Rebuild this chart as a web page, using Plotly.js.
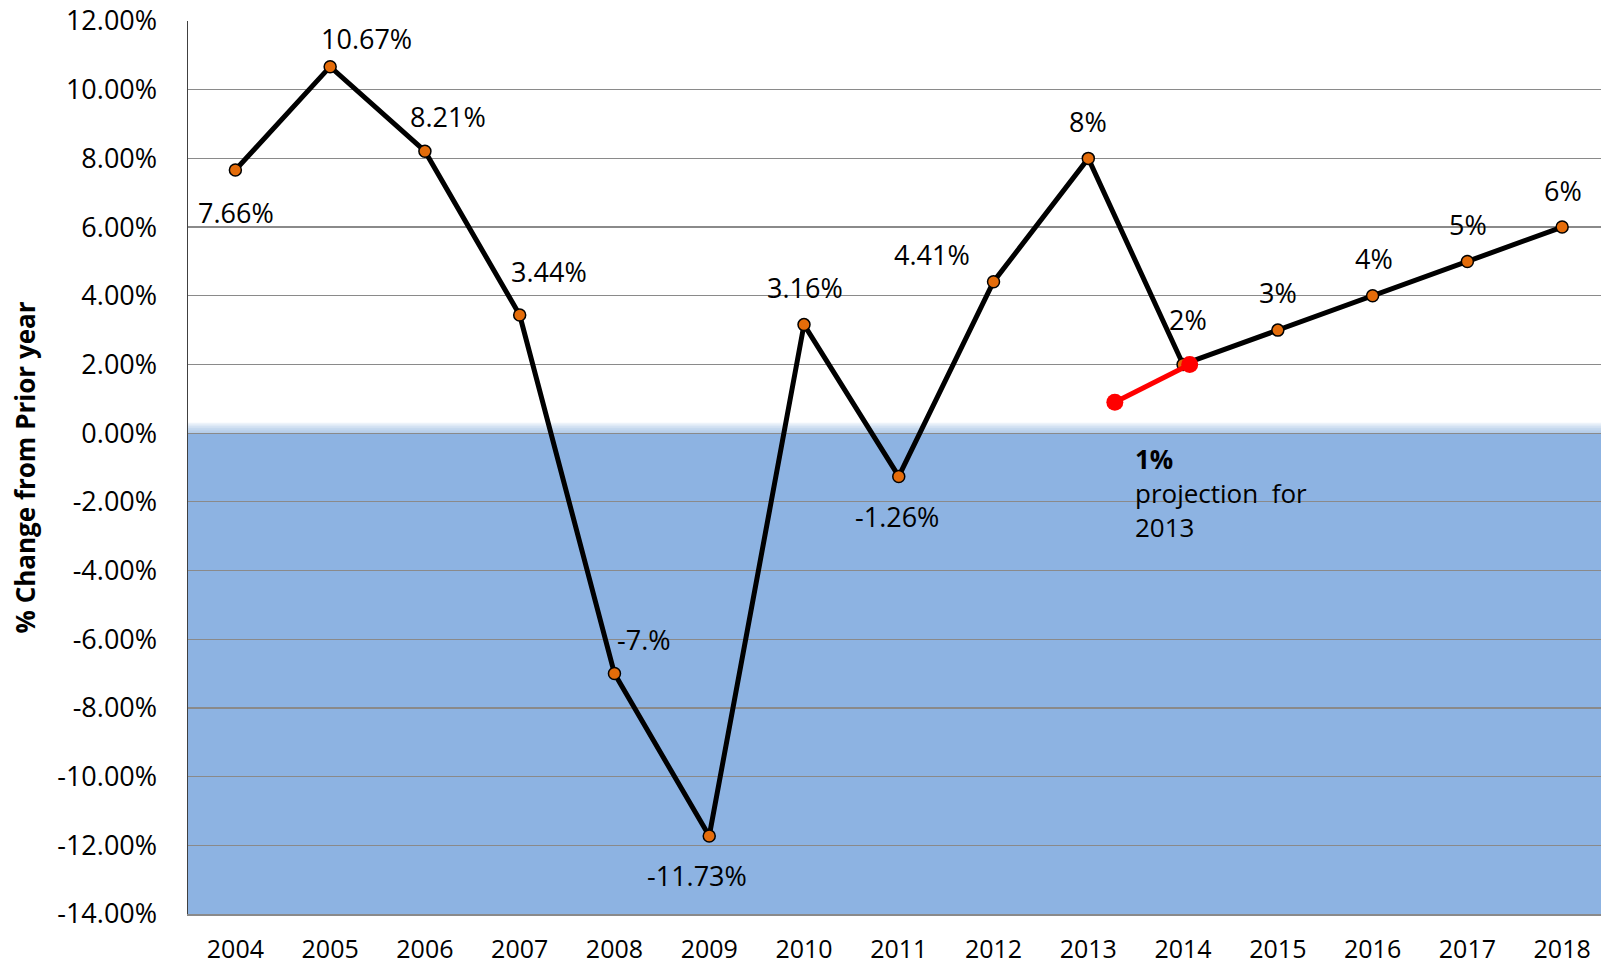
<!DOCTYPE html>
<html>
<head>
<meta charset="utf-8">
<script src="https://cdn.plot.ly/plotly-3.0.1.min.js"></script>
<style>
html,body{margin:0;padding:0;background:#fff;overflow:hidden;}
#chart{width:1601px;height:966px;}
</style>
</head>
<body>
<div id="chart"></div>
<script>
// ---- data ----
const years = [2004, 2005, 2006, 2007, 2008, 2009, 2010, 2011, 2012, 2013, 2014, 2015, 2016, 2017, 2018];
const pctChange = [7.66, 10.67, 8.21, 3.44, -7, -11.73, 3.16, -1.26, 4.41, 8, 2, 3, 4, 5, 6];
const pointLabels = ["7.66%", "10.67%", "8.21%", "3.44%", "-7.%", "-11.73%", "3.16%", "-1.26%", "4.41%", "8%", "2%", "3%", "4%", "5%", "6%"];
const projYears = [2013.28, 2014.07];
const projValues = [0.9, 2];
const projNote = ["<b>1%</b>", "projection  for", "2013"];
const yTickVals = [-14, -12, -10, -8, -6, -4, -2, 0, 2, 4, 6, 8, 10, 12];
const yTickText = ["-14.00%", "-12.00%", "-10.00%", "-8.00%", "-6.00%", "-4.00%", "-2.00%", "0.00%", "2.00%", "4.00%", "6.00%", "8.00%", "10.00%", "12.00%"];
const xTickText = years.map(String);

// ---- label placement (pixel offsets from each point) ----
const labelShift = [
  [1, -42], [36, 28], [23, 35], [29, 44], [30, 34], [-12, -39], [1, 37], [-2, -40],
  [-62, 27], [0, 37], [5, 45], [0, 38], [1, 37], [1, 37], [1, 37]
];

const FONT = "'Open Sans', 'Noto Sans', sans-serif";

const traces = [
  {
    x: years, y: pctChange, type: 'scatter', mode: 'lines+markers',
    line: {color: '#000000', width: 5},
    marker: {color: '#E46C0A', size: 12, line: {color: '#000000', width: 1.5}},
    hoverinfo: 'x+y', showlegend: false
  },
  {
    x: projYears, y: projValues, type: 'scatter', mode: 'lines+markers',
    line: {color: '#FF0000', width: 5},
    marker: {color: '#FF0000', size: 17},
    showlegend: false
  }
];

const annotations = years.map((yr, i) => ({
  x: yr, y: pctChange[i], xref: 'x', yref: 'y',
  text: pointLabels[i], showarrow: false,
  xshift: labelShift[i][0], yshift: labelShift[i][1],
  font: {family: FONT, size: 27, color: '#000'}
}));
annotations.push({
  x: projYears[0], y: projValues[0], xref: 'x', yref: 'y',
  text: projNote.join('<br>'), showarrow: false, align: 'left',
  xanchor: 'left', yanchor: 'middle', xshift: 18, yshift: -91,
  font: {family: FONT, size: 26, color: '#000'}
});

// blue shading below zero with soft fade on top edge
const shapes = [{
  type: 'rect', xref: 'paper', yref: 'y', x0: 0, x1: 1, y0: -14, y1: 0,
  fillcolor: '#8DB3E2', line: {width: 0}, layer: 'below'
}];
for (let k = 1; k <= 6; k++) {
  shapes.push({
    type: 'rect', xref: 'paper', yref: 'y', x0: 0, x1: 1, y0: 0, y1: 0.05 * k,
    fillcolor: '#8DB3E2', opacity: 0.16, line: {width: 0}, layer: 'below'
  });
}

const layout = {
  width: 1601, height: 966,
  margin: {l: 188, r: 0, t: 20.5, b: 52.3, pad: 0},
  paper_bgcolor: '#ffffff', plot_bgcolor: '#ffffff',
  font: {family: FONT, size: 25, color: '#000'},
  showlegend: false,
  xaxis: {
    range: [2003.5, 2018.41], tickvals: years, ticktext: xTickText,
    showgrid: false, zeroline: false, showline: true, linecolor: '#8a8a8a', linewidth: 1.5,
    ticks: '', tickfont: {family: FONT, size: 25, color: '#000'},
    ticklabelstandoff: 12, fixedrange: true
  },
  yaxis: {
    range: [-14, 12], tickvals: yTickVals, ticktext: yTickText,
    showgrid: true, gridcolor: '#8a8a8a', gridwidth: 1.2,
    zeroline: false, showline: true, linecolor: '#404040', linewidth: 1.5,
    ticks: '', tickfont: {family: FONT, size: 27, color: '#000'},
    ticklabelstandoff: 24,
    title: {text: '<b>% Change from Prior year</b>', font: {family: FONT, size: 26, color: '#000'}, standoff: 14},
    automargin: false, fixedrange: true
  },
  shapes: shapes,
  annotations: annotations
};

Plotly.newPlot('chart', traces, layout, {displayModeBar: false, staticPlot: true});
</script>
</body>
</html>
